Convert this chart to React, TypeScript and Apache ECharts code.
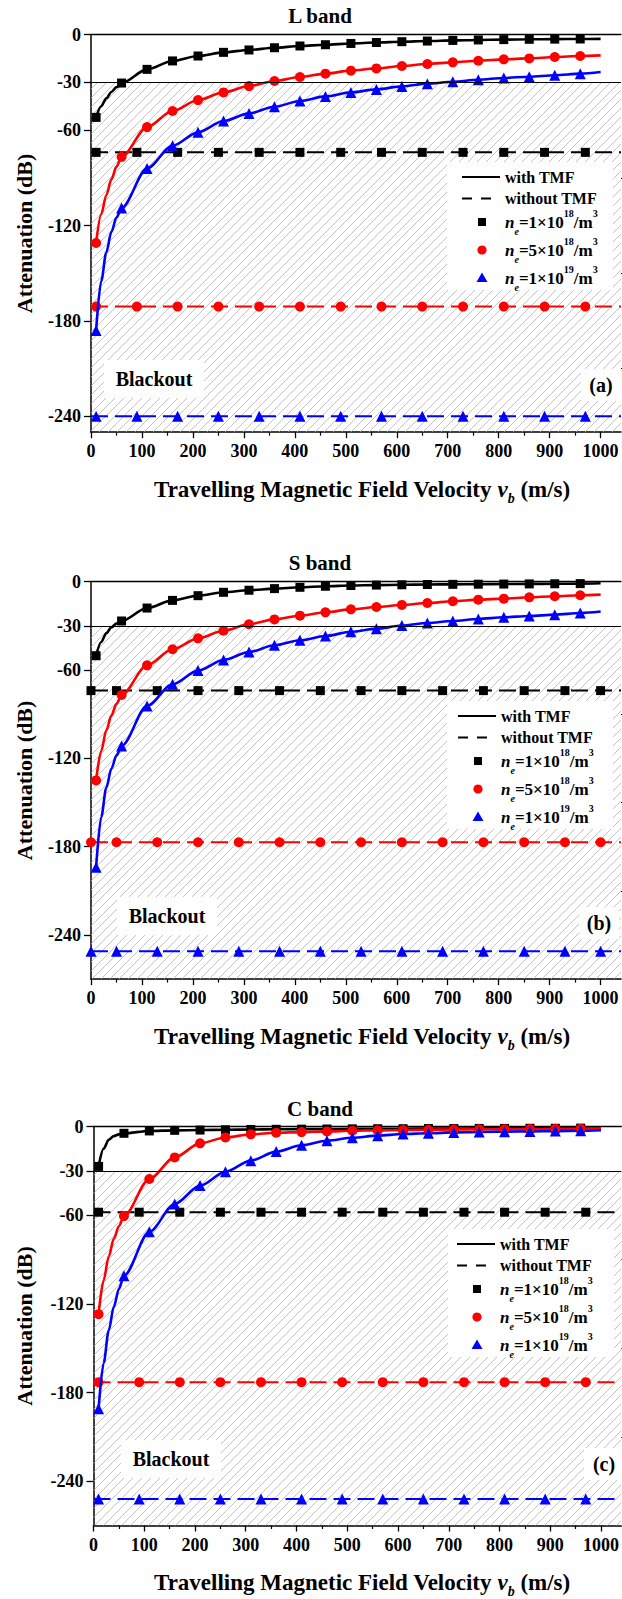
import React, { useEffect, useRef } from "react";
import * as echarts from "echarts";

const FONT = "Liberation Serif";

// velocities (m/s) of the "with TMF" curves
const SOLID_V = [10, 20, 30, 40, 50, 60, 110, 160, 210, 260, 310, 360, 410, 460, 510, 560, 610, 660, 710, 760, 810, 860, 910, 960, 1000];
const SOLID_MARK_V = [10, 60, 110, 160, 210, 260, 310, 360, 410, 460, 510, 560, 610, 660, 710, 760, 810, 860, 910, 960];

// L band, with TMF
const L_BLACK = [-52, -45, -40, -36, -33, -30.4, -21.8, -16.5, -13.4, -11.1, -9.6, -8.2, -7.1, -6.3, -5.5, -4.9, -4.4, -4.0, -3.6, -3.3, -3.1, -2.9, -2.8, -2.7, -2.6];
const L_RED = [-131, -113, -101, -91, -83, -76.8, -58.1, -48.0, -41.1, -36.3, -32.3, -29.1, -26.6, -24.5, -22.6, -21.2, -19.7, -18.4, -17.4, -16.4, -15.5, -14.9, -14.0, -13.4, -13.0];
const L_BLUE = [-186, -155, -137, -124, -115, -109, -84.1, -69.8, -61.4, -54.3, -49.5, -45.3, -41.7, -38.8, -36.3, -34.4, -32.5, -30.8, -29.6, -28.3, -27.2, -26.4, -25.5, -24.5, -23.5];
// S band, with TMF
const S_BLACK = [-50.3, -41, -35, -31, -28.5, -26.7, -17.9, -12.7, -9.5, -7.2, -5.8, -4.7, -3.8, -3.1, -2.6, -2.3, -2.1, -1.9, -1.8, -1.7, -1.6, -1.5, -1.4, -1.3, -1.1];
const S_RED = [-135, -115, -101, -91, -83, -77.0, -56.8, -45.9, -38.5, -33.3, -28.9, -25.6, -23.1, -20.8, -18.8, -17.2, -15.8, -14.5, -13.3, -12.2, -11.5, -10.6, -9.9, -9.2, -8.8];
const S_BLUE = [-194, -160, -140, -127, -118, -111.6, -84.4, -69.7, -60.4, -53.2, -47.8, -43.2, -39.8, -36.9, -34.0, -31.9, -29.8, -28.1, -26.7, -25.3, -24.2, -23.3, -22.4, -21.3, -20.3];
// C band, with TMF
const C_BLACK = [-27, -15, -9, -6.5, -5.3, -4.6, -3.0, -2.6, -2.4, -2.2, -2.0, -1.9, -1.8, -1.7, -1.6, -1.5, -1.5, -1.4, -1.4, -1.3, -1.3, -1.2, -1.2, -1.1, -1.1];
const C_RED = [-127, -104, -88, -76, -67.5, -60.6, -35.5, -20.9, -11.4, -7.4, -5.3, -4.2, -3.8, -3.3, -2.9, -2.6, -2.4, -2.2, -2.0, -1.9, -1.8, -1.7, -1.6, -1.5, -1.4];
const C_BLUE = [-191, -160, -138, -122, -110, -101, -71.2, -52.4, -40.0, -30.6, -23.1, -17.0, -12.7, -9.6, -7.6, -6.2, -5.1, -4.6, -4.0, -3.7, -3.5, -3.3, -3.1, -2.9, -2.5];

// without TMF (constant levels): black, red, blue
const L_DASH = [-74, -171, -240];
const S_DASH = [-74, -177, -251];
const C_DASH = [-58, -173, -252];
const DASH_V_LC = [10, 90, 170, 250, 330, 410, 490, 570, 650, 730, 810, 890, 970];
const DASH_V_S = [0, 50, 130, 210, 290, 370, 450, 530, 610, 690, 770, 850, 930, 1000];

const X_MAX = 1040;
const X_LABELS = [0, 100, 200, 300, 400, 500, 600, 700, 800, 900, 1000];
const X_MINOR = [50, 150, 250, 350, 450, 550, 650, 750, 850, 950];
const Y_LABELS = [0, -30, -60, -120, -180, -240];
const Y_MINOR = [-90, -150, -210];
const THRESHOLD = -30;

const TITLES = ["L band", "S band", "C band"];
const TAGS = ["(a)", "(b)", "(c)"];
const Y_MINS = [-250, -270, -270];
const COLORS = ["#000000", "#ff0000", "#0000ff"];
const SYMBOLS = ["rect", "circle", "triangle"];
const SYMBOL_SIZES = [9, 10, 11];
const LEGEND_LABELS = ["1×10", "5×10", "1×10"];
const LEGEND_EXP = ["18", "18", "19"];

// layout
const GRIDS = [
  { left: 91, top: 34.7, width: 530, height: 397.5 },
  { left: 91, top: 581.7, width: 530, height: 397.4 },
  { left: 93.5, top: 1126.5, width: 530, height: 399 },
];
const TITLE_Y = [16, 563, 1109];
const LEGEND_POS = [
  { x: 462, y: 177, bx: 447 },
  { x: 458, y: 716, bx: 447 },
  { x: 457, y: 1244, bx: 448 },
];
const BLACKOUT_POS = [
  { x: 154, y: 379 },
  { x: 167, y: 916 },
  { x: 171, y: 1459 },
];
const TAG_POS = [
  { x: 601, y: 385 },
  { x: 599, y: 923 },
  { x: 604, y: 1464 },
];

function makeHatch() {
  const c = document.createElement("canvas");
  const s = 9;
  c.width = s;
  c.height = s;
  const ctx = c.getContext("2d")!;
  ctx.strokeStyle = "#b0b0b0";
  ctx.lineWidth = 0.75;
  ctx.beginPath();
  ctx.moveTo(0, s);
  ctx.lineTo(s, 0);
  ctx.moveTo(-1, 1);
  ctx.lineTo(1, -1);
  ctx.moveTo(s - 1, s + 1);
  ctx.lineTo(s + 1, s - 1);
  ctx.stroke();
  return c;
}

const plain = (v: number) => String(v);

function buildOption() {
  const hatch = { image: makeHatch(), repeat: "repeat" };
  const panels = [
    { solid: [L_BLACK, L_RED, L_BLUE], dash: L_DASH, dashV: DASH_V_LC },
    { solid: [S_BLACK, S_RED, S_BLUE], dash: S_DASH, dashV: DASH_V_S },
    { solid: [C_BLACK, C_RED, C_BLUE], dash: C_DASH, dashV: DASH_V_LC },
  ];
  const grid: any[] = [];
  const xAxis: any[] = [];
  const yAxis: any[] = [];
  const series: any[] = [];
  const graphic: any[] = [];
  const labelStyle = { fontFamily: FONT, fontWeight: "bold", fontSize: 18, color: "#000", formatter: plain };

  panels.forEach((p, i) => {
    grid.push({ ...GRIDS[i], containLabel: false });
    // main bottom x axis
    xAxis.push({
      type: "value", gridIndex: i, min: 0, max: X_MAX, position: "bottom",
      axisLine: { show: true, onZero: false, lineStyle: { color: "#000", width: 1.5 } },
      axisTick: { show: true, length: 6, lineStyle: { color: "#000", width: 1.3 }, customValues: X_LABELS },
      axisLabel: { ...labelStyle, margin: 10, customValues: X_LABELS },
      splitLine: { show: false },
    });
    // minor ticks
    xAxis.push({
      type: "value", gridIndex: i, min: 0, max: X_MAX, position: "bottom",
      axisLine: { show: false, onZero: false },
      axisTick: { show: true, length: 3.5, lineStyle: { color: "#000", width: 1.2 }, customValues: X_MINOR },
      axisLabel: { show: false },
      splitLine: { show: false },
    });
    // top frame line
    xAxis.push({
      type: "value", gridIndex: i, min: 0, max: X_MAX, position: "top",
      axisLine: { show: true, onZero: false, lineStyle: { color: "#000", width: 1.3 } },
      axisTick: { show: false }, axisLabel: { show: false }, splitLine: { show: false },
    });
    yAxis.push({
      type: "value", gridIndex: i, min: Y_MINS[i], max: 0,
      axisLine: { show: true, onZero: false, lineStyle: { color: "#000", width: 1.5 } },
      axisTick: { show: true, length: 7, lineStyle: { color: "#000", width: 1.3 }, customValues: Y_LABELS },
      axisLabel: { ...labelStyle, margin: 10, customValues: Y_LABELS },
      splitLine: { show: false },
    });
    yAxis.push({
      type: "value", gridIndex: i, min: Y_MINS[i], max: 0,
      axisLine: { show: false, onZero: false },
      axisTick: { show: true, length: 4, lineStyle: { color: "#000", width: 1.2 }, customValues: Y_MINOR },
      axisLabel: { show: false }, splitLine: { show: false },
    });

    // hatched blackout region + threshold line (helper series)
    series.push({
      type: "line", xAxisIndex: 3 * i, yAxisIndex: 2 * i, data: [], silent: true,
      markArea: {
        silent: true, itemStyle: { color: hatch as any },
        data: [[{ yAxis: THRESHOLD }, { yAxis: Y_MINS[i] }]],
      },
      markLine: {
        silent: true, symbol: "none", label: { show: false },
        lineStyle: { color: "#000", width: 1.2, type: "solid" },
        data: [{ yAxis: THRESHOLD }],
      },
      z: 1,
    });

    // dashed without-TMF lines
    p.dash.forEach((level, k) => {
      const vs = [0, ...p.dashV.filter((v) => v !== 0), X_MAX];
      const data = vs.map((v) => ({
        value: [v, level],
        symbol: p.dashV.includes(v) ? SYMBOLS[k] : "none",
      }));
      series.push({
        type: "line", xAxisIndex: 3 * i, yAxisIndex: 2 * i, data,
        symbolSize: SYMBOL_SIZES[k], showSymbol: true, clip: true,
        lineStyle: { color: COLORS[k], width: 2, type: [17, 7] },
        itemStyle: { color: COLORS[k] },
        z: 3,
      });
    });

    // solid with-TMF curves
    p.solid.forEach((arr, k) => {
      const data = SOLID_V.map((v, j) => ({
        value: [v, arr[j]],
        symbol: SOLID_MARK_V.includes(v) ? SYMBOLS[k] : "none",
      }));
      series.push({
        type: "line", xAxisIndex: 3 * i, yAxisIndex: 2 * i, data,
        smooth: 0.3, smoothMonotone: "x",
        symbolSize: SYMBOL_SIZES[k], showSymbol: true,
        lineStyle: { color: COLORS[k], width: 2.6 },
        itemStyle: { color: COLORS[k] },
        z: 4,
      });
    });

    const g = GRIDS[i];
    // panel title
    graphic.push({
      type: "text", x: 320, y: TITLE_Y[i], z: 100,
      style: { text: TITLES[i], align: "center", verticalAlign: "middle", font: `bold 21px ${FONT}`, fill: "#000" },
    });
    // y axis title
    graphic.push({
      type: "text", x: 24, y: g.top + g.height / 2, rotation: Math.PI / 2, z: 100,
      style: { text: "Attenuation (dB)", align: "center", verticalAlign: "middle", font: `bold 22px ${FONT}`, fill: "#000" },
    });
    // x axis title
    graphic.push({
      type: "text", x: 362, y: g.top + g.height + 57, z: 100,
      style: {
        text: "{t|Travelling Magnetic Field Velocity }{v|v}{b|b}{t| (m/s)}",
        align: "center", verticalAlign: "middle",
        rich: {
          t: { fontFamily: FONT, fontWeight: "bold", fontSize: 23, lineHeight: 32, fill: "#000" },
          v: { fontFamily: FONT, fontWeight: "bold", fontStyle: "italic", fontSize: 23, lineHeight: 32, fill: "#000" },
          b: { fontFamily: FONT, fontWeight: "bold", fontStyle: "italic", fontSize: 14, lineHeight: 32, verticalAlign: "bottom", fill: "#000" },
        },
      },
    });
    // Blackout label
    const bp = BLACKOUT_POS[i];
    graphic.push({ type: "rect", z: 90, shape: { x: bp.x - 50, y: bp.y - 19, width: 100, height: 38 }, style: { fill: "#fff" } });
    graphic.push({
      type: "text", x: bp.x, y: bp.y, z: 100,
      style: { text: "Blackout", align: "center", verticalAlign: "middle", font: `bold 20px ${FONT}`, fill: "#000" },
    });
    // panel tag
    const tp = TAG_POS[i];
    graphic.push({ type: "rect", z: 90, shape: { x: tp.x - 20, y: tp.y - 16, width: 40, height: 32 }, style: { fill: "#fff" } });
    graphic.push({
      type: "text", x: tp.x, y: tp.y, z: 100,
      style: { text: TAGS[i], align: "center", verticalAlign: "middle", font: `bold 20px ${FONT}`, fill: "#000" },
    });

    // legend
    const lp = LEGEND_POS[i];
    const lx = lp.x;
    const ly = lp.y;
    const tx = lx + 43;
    graphic.push({ type: "rect", z: 90, shape: { x: lp.bx, y: ly - 15, width: 166, height: 128 }, style: { fill: "#fff" } });
    graphic.push({ type: "line", z: 100, shape: { x1: lx, y1: ly, x2: lx + 38, y2: ly }, style: { stroke: "#000", lineWidth: 2 } });
    graphic.push({
      type: "text", x: tx, y: ly, z: 100,
      style: { text: "with TMF", align: "left", verticalAlign: "middle", font: `bold 16px ${FONT}`, fill: "#000" },
    });
    const y2 = ly + 21.5;
    graphic.push({ type: "line", z: 100, shape: { x1: lx, y1: y2, x2: lx + 10, y2: y2 }, style: { stroke: "#000", lineWidth: 2 } });
    graphic.push({ type: "line", z: 100, shape: { x1: lx + 19, y1: y2, x2: lx + 29, y2: y2 }, style: { stroke: "#000", lineWidth: 2 } });
    graphic.push({
      type: "text", x: tx, y: y2, z: 100,
      style: { text: "without TMF", align: "left", verticalAlign: "middle", font: `bold 16px ${FONT}`, fill: "#000" },
    });
    const rowY = [ly + 45, ly + 73, ly + 101];
    const mx = lx + 20;
    graphic.push({ type: "rect", z: 100, shape: { x: mx - 4, y: rowY[0] - 4, width: 8, height: 8 }, style: { fill: COLORS[0] } });
    graphic.push({ type: "circle", z: 100, shape: { cx: mx, cy: rowY[1], r: 4.6 }, style: { fill: COLORS[1] } });
    graphic.push({
      type: "polygon", z: 100,
      shape: { points: [[mx, rowY[2] - 5.5], [mx + 5.5, rowY[2] + 4], [mx - 5.5, rowY[2] + 4]] },
      style: { fill: COLORS[2] },
    });
    rowY.forEach((ry, k) => {
      graphic.push({
        type: "text", x: tx, y: ry, z: 100,
        style: {
          text: `{n|n}{e|e}{t|=${LEGEND_LABELS[k]}}{p|${LEGEND_EXP[k]}}{t|/m}{p|3}`,
          align: "left", verticalAlign: "middle",
          rich: {
            n: { fontFamily: FONT, fontWeight: "bold", fontStyle: "italic", fontSize: 17, lineHeight: 28, fill: "#000" },
            e: { fontFamily: FONT, fontWeight: "bold", fontStyle: "italic", fontSize: 10, lineHeight: 28, verticalAlign: "bottom", fill: "#000" },
            t: { fontFamily: FONT, fontWeight: "bold", fontSize: 17, lineHeight: 28, fill: "#000" },
            p: { fontFamily: FONT, fontWeight: "bold", fontSize: 10, lineHeight: 22, verticalAlign: "top", fill: "#000" },
          },
        },
      });
    });
  });

  return {
    animation: false,
    backgroundColor: "#ffffff",
    grid, xAxis, yAxis, series, graphic,
  };
}

export default function App() {
  const ref = useRef<HTMLDivElement>(null);
  useEffect(() => {
    if (!ref.current) return;
    const chart = echarts.init(ref.current, null, { renderer: "svg" });
    chart.setOption(buildOption() as any);
    return () => chart.dispose();
  }, []);
  return <div ref={ref} style={{ position: "absolute", left: 0, top: 0, width: 622, height: 1599 }} />;
}
